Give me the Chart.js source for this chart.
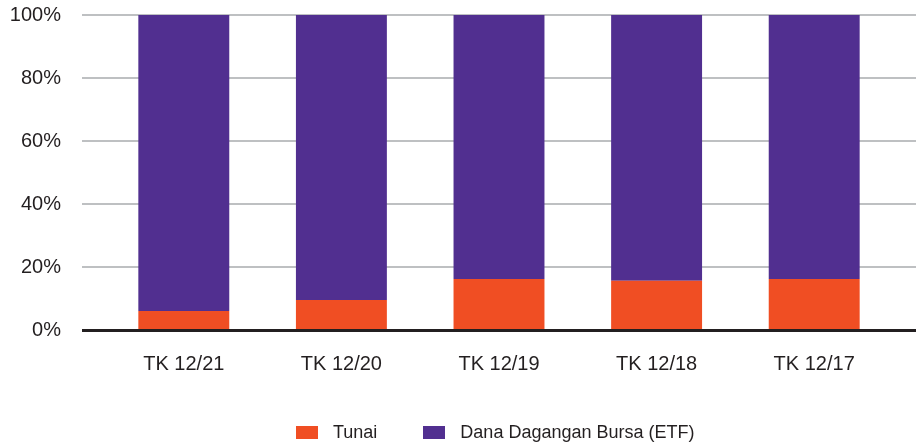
<!DOCTYPE html>
<html>
<head>
<meta charset="utf-8">
<script src="https://cdn.jsdelivr.net/npm/chart.js@4"></script>
<style>
  html, body { margin: 0; padding: 0; background: #fff; }
  #wrap { position: relative; width: 923px; height: 445px; }
  #legend {
    position: absolute; left: 296px; top: 422px; height: 20px;
    display: flex; align-items: center;
    font: 18px "Liberation Sans", Arial, Helvetica, sans-serif; color: #231f20;
  }
  #legend .item { display: flex; align-items: center; margin-right: 46px; }
  #legend .box { width: 22px; height: 13px; margin-right: 15px; }
</style>
</head>
<body>
<div id="wrap"><canvas id="bar-chart"></canvas><div id="legend"></div></div>
<script>
let labels = ['TK 12/21', 'TK 12/20', 'TK 12/19', 'TK 12/18', 'TK 12/17'];
let tunai = [6.0, 9.5, 16.2, 15.6, 16.2];
let etf = [94.0, 90.5, 83.8, 84.4, 83.8];
let yTicks = [0, 20, 40, 60, 80, 100];

const textColor = '#231f20';
const fontFamily = '"Liberation Sans", Arial, Helvetica, sans-serif';

// gridlines run a bit past the bars on both sides
const extGrid = {
    id: 'extGrid',
    beforeDatasetsDraw(chart) {
        const { ctx, chartArea, scales } = chart;
        const y = scales.y;
        const x0 = chartArea.left - 23, x1 = chartArea.right + 23;
        ctx.save();
        ctx.strokeStyle = '#a9abae';
        ctx.lineWidth = 1.5;
        y.ticks.forEach(t => {
            if (t.value === 0) return;
            const py = y.getPixelForValue(t.value);
            ctx.beginPath();
            ctx.moveTo(x0, py);
            ctx.lineTo(x1, py);
            ctx.stroke();
        });
        ctx.restore();
    },
    afterDatasetsDraw(chart) {
        const { ctx, chartArea, scales } = chart;
        const py = scales.y.getPixelForValue(0);
        ctx.save();
        ctx.strokeStyle = '#231f20';
        ctx.lineWidth = 3;
        ctx.beginPath();
        ctx.moveTo(chartArea.left - 23, py + 0.5);
        ctx.lineTo(chartArea.right + 23, py + 0.5);
        ctx.stroke();
        ctx.restore();
    }
};

function buildLegend(chart) {
    let box = document.getElementById('legend');
    chart.data.datasets.forEach(ds => {
        let item = document.createElement('div');
        item.className = 'item';
        let sw = document.createElement('span');
        sw.className = 'box';
        sw.style.background = ds.backgroundColor;
        let txt = document.createElement('span');
        txt.textContent = ds.label;
        item.appendChild(sw);
        item.appendChild(txt);
        box.appendChild(item);
    });
}

function drawChart(divId) {
    let chart_ele = document.getElementById(divId).getContext('2d');

    let chart = new Chart(chart_ele, {
        type: 'bar',
        data: {
            labels: labels,
            datasets: [{
                label: 'Tunai',
                backgroundColor: '#f04e23',
                data: tunai
            }, {
                label: 'Dana Dagangan Bursa (ETF)',
                backgroundColor: '#512f90',
                data: etf
            }]
        },
        options: {
            responsive: true,
            maintainAspectRatio: false,
            animation: false,
            datasets: {
                bar: { categoryPercentage: 1, barPercentage: 0.577 }
            },
            layout: {
                padding: { left: 10, right: 30, top: 15, bottom: 47 }
            },
            scales: {
                x: {
                    stacked: true,
                    grid: { display: false, drawTicks: false },
                    border: { display: false },
                    ticks: {
                        color: textColor,
                        padding: 22,
                        font: { family: fontFamily, size: 20 }
                    }
                },
                y: {
                    stacked: true,
                    min: 0,
                    max: 100,
                    afterBuildTicks: axis => { axis.ticks = yTicks.map(v => ({ value: v })); },
                    afterFit: axis => {
                        axis.width = 95;
                        axis.paddingTop = 0;
                        axis.paddingBottom = 0;
                    },
                    grid: { display: false, drawTicks: false },
                    border: { display: false },
                    ticks: {
                        color: textColor,
                        padding: 44,
                        font: { family: fontFamily, size: 20 },
                        callback: v => v + '%'
                    }
                }
            },
            plugins: {
                legend: { display: false },
                tooltip: { enabled: false }
            }
        },
        plugins: [extGrid]
    });
    buildLegend(chart);
}

drawChart('bar-chart');
</script>
</body>
</html>
